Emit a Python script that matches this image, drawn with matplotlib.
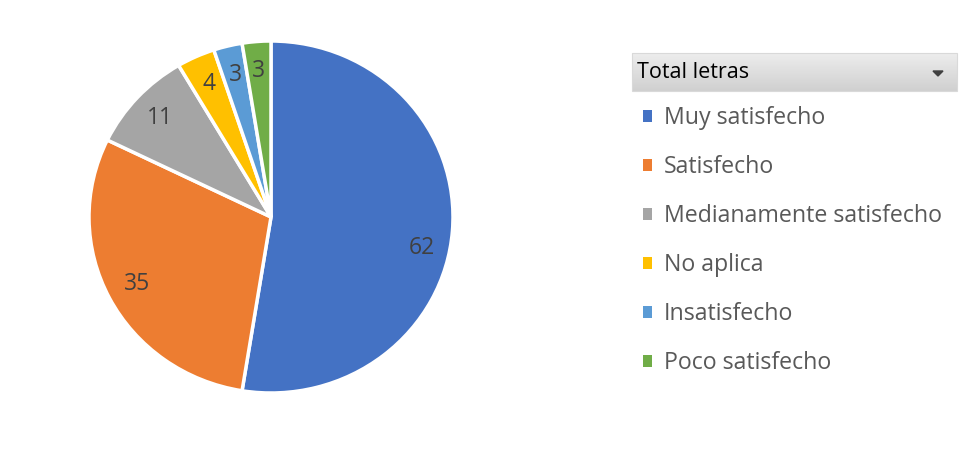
import matplotlib.pyplot as plt
import numpy as np
from matplotlib.patches import Rectangle, Polygon
from matplotlib.colors import LinearSegmentedColormap

categories = ["Muy satisfecho", "Satisfecho", "Medianamente satisfecho",
              "No aplica", "Insatisfecho", "Poco satisfecho"]
values = [62, 35, 11, 4, 3, 3]
colors = ["#4472C4", "#ED7D31", "#A5A5A5", "#FFC000", "#5B9BD5", "#70AD47"]
legend_title = "Total letras"

plt.rcParams['font.family'] = ['Open Sans', 'DejaVu Sans']

W, H = 967, 451
fig = plt.figure(figsize=(W / 100, H / 100), dpi=100)
ax = fig.add_axes([0, 0, 1, 1])
pax = fig.add_axes([89 / W, (H - 393) / H, 364 / W, 352 / H])

wedges, texts = pax.pie(values, colors=colors, startangle=90, counterclock=False,
                        radius=1, labels=[str(v) for v in values], labeldistance=0.83,
                        wedgeprops=dict(edgecolor='white', linewidth=2.5),
                        textprops=dict(color='#404040', fontsize=16.5, ha='center', va='center'),
                        frame=True)
pax.set_xlim(-1, 1)
pax.set_ylim(-1, 1)
pax.set_aspect('auto')
pax.axis('off')
# Excel best-fit placement of the largest label sits a bit lower
tx, ty = texts[0].get_position()
texts[0].set_position((tx, ty - 0.11))

# legend header box with gradient
x0, x1, y0, y1 = 632, 957, H - 91, H - 53
grad = np.linspace(0, 1, 50).reshape(-1, 1)
ax.imshow(grad, extent=[x0, x1, y0, y1],
          cmap=LinearSegmentedColormap.from_list('g', ['#d0d0d0', '#ededed']),
          origin='lower', aspect='auto', zorder=1)
ax.add_patch(Rectangle((x0, y0), x1 - x0, y1 - y0, fill=False, edgecolor='#d9d9d9', lw=0.8, zorder=2))
ax.text(637, H - 72, legend_title, fontsize=15.5, color='black', va='center', ha='left', zorder=3)
ax.add_patch(Polygon([[933, H - 71], [943, H - 71], [938, H - 76]], closed=True,
                     color='#404040', zorder=3))

ax.set_xlim(0, W)
ax.set_ylim(0, H)
ax.axis('off')

handles = [Rectangle((0, 0), 1, 1, facecolor=c, edgecolor='none') for c in colors]
leg = ax.legend(handles, categories, loc='upper left', bbox_to_anchor=(643 / W, (H - 106) / H),
                frameon=False, fontsize=16.7, labelcolor='#595959', handlelength=0.4,
                handleheight=0.4, handletextpad=0.5, labelspacing=1.08, borderpad=0,
                borderaxespad=0)

fig.savefig('out.png', dpi=100)
